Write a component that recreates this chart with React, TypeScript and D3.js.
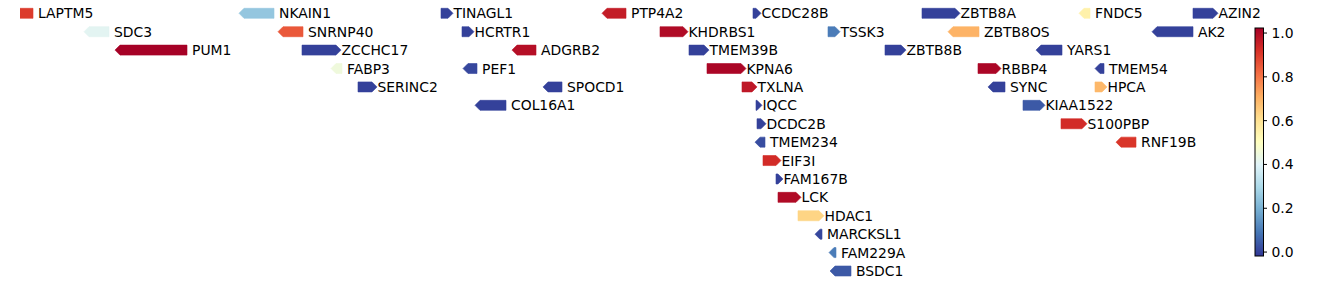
import React from "react";
import * as d3 from "d3";

// Gene annotation data (positions in kb relative to the window start)
const geneNames = [
  "LAPTM5","NKAIN1","TINAGL1","PTP4A2","CCDC28B","ZBTB8A","FNDC5","AZIN2",
  "SDC3","SNRNP40","HCRTR1","KHDRBS1","TSSK3","ZBTB8OS","AK2",
  "PUM1","ZCCHC17","ADGRB2","TMEM39B","ZBTB8B","YARS1",
  "FABP3","PEF1","KPNA6","RBBP4","TMEM54",
  "SERINC2","SPOCD1","TXLNA","SYNC","HPCA",
  "COL16A1","IQCC","KIAA1522",
  "DCDC2B","S100PBP",
  "TMEM234","RNF19B",
  "EIF3I","FAM167B","LCK","HDAC1","MARCKSL1","FAM229A","BSDC1",
];
const geneStart = [
  -6,219,421,582,733,902,1059,1173,
  64,258,442,640,808,928,1132,
  95,282,492,669,865,1016,
  311,443,687,958,1075,
  338,523,722,968,1075,
  455,736,1003,
  737,1041,
  735,1096,
  743,756,758,778,795,809,810,
];
const geneEnd = [
  13,254,433,606,741,940,1070,1198,
  89,283,454,668,820,959,1173,
  167,321,516,689,886,1042,
  322,457,726,981,1084,
  357,542,737,985,1087,
  486,742,1025,
  746,1067,
  745,1116,
  761,763,781,804,802,816,831,
];
const geneStrand = [
  -1,-1,1,-1,1,1,-1,1,
  -1,-1,1,1,1,-1,-1,
  -1,1,-1,1,1,-1,
  -1,-1,1,1,-1,
  1,-1,1,-1,1,
  -1,1,1,
  1,1,
  -1,-1,
  1,1,1,1,-1,-1,-1,
];
const geneRow = [
  0,0,0,0,0,0,0,0,
  1,1,1,1,1,1,1,
  2,2,2,2,2,2,
  3,3,3,3,3,
  4,4,4,4,4,
  5,5,5,
  6,6,
  7,7,
  8,9,10,11,12,13,14,
];
const geneValue = [
  0.9,0.25,0.0,0.96,0.0,0.0,0.55,0.0,
  0.41,0.85,0.0,1.0,0.1,0.7,0.0,
  1.02,0.0,0.99,0.0,0.0,0.0,
  0.45,0.01,1.01,1.01,0.0,
  0.0,0.0,0.97,0.0,0.69,
  0.0,0.0,0.04,
  0.0,0.93,
  0.02,0.91,
  0.93,0.0,1.0,0.63,0.01,0.1,0.04,
];
const colorbarTicks = [0.0, 0.2, 0.4, 0.6, 0.8, 1.0];
const colorMin = -0.018;
const colorMax = 1.023;
const rdylbuR = [
  "#313695","#4575b4","#74add1","#abd9e9","#e0f3f8","#ffffbf",
  "#fee090","#fdae61","#f46d43","#d73027","#a50026",
];

const W = 1338;
const H = 285;
const FONT = "'DejaVu Sans', sans-serif";
const FS = 13.9;

export default function App() {
  React.useEffect(() => {
    document.body.style.margin = "0";
  }, []);

  const x = d3.scaleLinear().domain([0, 1225]).range([20, 1245]);
  const rows = d3.range(15);
  const y = d3.scalePoint<number>().domain(rows).range([13.3, 271]);
  const cmap = d3
    .scaleLinear<string>()
    .domain(d3.range(11).map((i) => i / 10))
    .range(rdylbuR)
    .interpolate(d3.interpolateRgb)
    .clamp(true);
  const norm = d3.scaleLinear().domain([colorMin, colorMax]).range([0, 1]);
  const color = (v: number) => cmap(norm(v));

  const halfH = 5;
  const headLen = 5;

  const genes = geneNames.map((name, i) => {
    const x0 = x(geneStart[i]);
    const x1 = x(geneEnd[i]);
    const cy = y(geneRow[i]) as number;
    const h = Math.min(headLen, x1 - x0);
    let pts: [number, number][];
    if (geneStrand[i] > 0) {
      pts = [
        [x0, cy - halfH],
        [x1 - h, cy - halfH],
        [x1, cy],
        [x1 - h, cy + halfH],
        [x0, cy + halfH],
      ];
    } else {
      pts = [
        [x1, cy - halfH],
        [x0 + h, cy - halfH],
        [x0, cy],
        [x0 + h, cy + halfH],
        [x1, cy + halfH],
      ];
    }
    const line = d3.line()(pts) + "Z";
    const lx = x1 + (geneStrand[i] > 0 ? 0.5 : 5);
    return { name, line, lx, cy, fill: color(geneValue[i]) };
  });

  // colorbar
  const cbX = 1255;
  const cbW = 8.5;
  const cbTop = 28;
  const cbBot = 256;
  const cy = d3.scaleLinear().domain([colorMin, colorMax]).range([cbBot, cbTop]);
  const stops = d3.range(0, 1.0001, 0.02);

  return (
    <svg
      width={W}
      height={H}
      style={{ position: "absolute", left: 0, top: 0, display: "block" }}
      fontFamily={FONT}
    >
      <defs>
        <clipPath id="axclip">
          <rect x={20} y={0} width={1230} height={H} />
        </clipPath>
        <linearGradient id="cbgrad" x1="0" y1="1" x2="0" y2="0">
          {stops.map((s, i) => (
            <stop key={i} offset={s} stopColor={cmap(s)} />
          ))}
        </linearGradient>
      </defs>
      <rect x={0} y={0} width={W} height={H} fill="white" />
      <g clipPath="url(#axclip)">
        {genes.map((g, i) => (
          <path key={"p" + i} d={g.line} fill={g.fill} stroke={g.fill} strokeWidth={0.6} strokeLinejoin="miter" />
        ))}
      </g>
      <g>
        {genes.map((g, i) => (
          <text key={"t" + i} x={g.lx} y={g.cy} dy="0.36em" fontSize={FS} fill="#000">
            {g.name}
          </text>
        ))}
      </g>
      <g>
        <rect x={cbX} y={cbTop} width={cbW} height={cbBot - cbTop} fill="url(#cbgrad)" />
        <rect
          x={cbX}
          y={cbTop}
          width={cbW}
          height={cbBot - cbTop}
          fill="none"
          stroke="#000"
          strokeWidth={1}
        />
        {colorbarTicks.map((t) => (
          <g key={t} transform={`translate(${cbX + cbW},${cy(t)})`}>
            <line x1={0} x2={3.5} stroke="#000" strokeWidth={1} />
            <text x={8} dy="0.36em" fontSize={FS} fill="#000">
              {t.toFixed(1)}
            </text>
          </g>
        ))}
      </g>
    </svg>
  );
}
